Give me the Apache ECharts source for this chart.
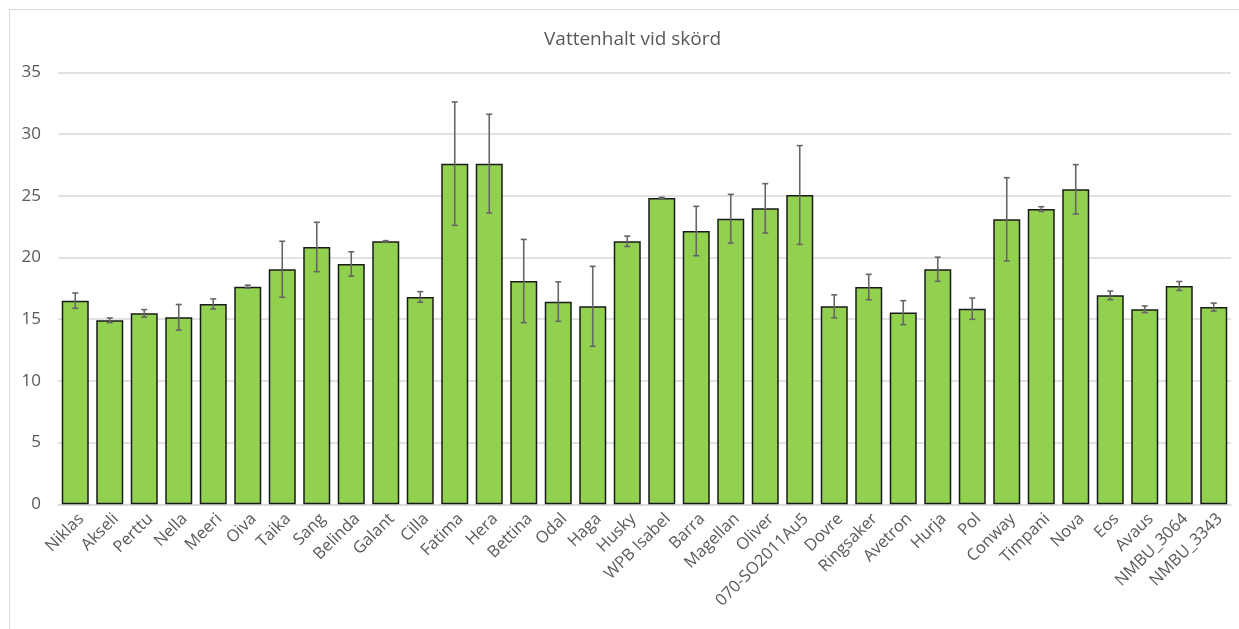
<!DOCTYPE html>
<html>
<head>
<meta charset="utf-8">
<script src="https://cdn.jsdelivr.net/npm/echarts@6/dist/echarts.min.js"></script>
<style>
html,body{margin:0;padding:0;background:#fff;}
#main{width:1239px;height:629px;}
</style>
</head>
<body>
<div id="main"></div>
<script>
const categories = ["Niklas","Akseli","Perttu","Nella","Meeri","Oiva","Taika","Sang","Belinda","Galant","Cilla","Fatima","Hera","Bettina","Odal","Haga","Husky","WPB Isabel","Barra","Magellan","Oliver","070-SO2011Au5","Dovre","Ringsaker","Avetron","Hurja","Pol","Conway","Timpani","Nova","Eos","Avaus","NMBU_3064","NMBU_3343"];
const values = [16.50,14.91,15.47,15.15,16.23,17.63,19.04,20.85,19.47,21.31,16.80,27.60,27.60,18.09,16.42,16.04,21.31,24.82,22.14,23.14,23.98,25.06,16.04,17.60,15.53,19.04,15.85,23.09,23.92,25.52,16.93,15.80,17.69,15.98];
const errors = [0.62,0.19,0.30,1.04,0.41,0.12,2.27,2.00,0.99,0.05,0.43,5.00,4.00,3.37,1.60,3.24,0.42,0.05,2.00,1.97,2.00,4.00,0.93,1.03,0.97,0.98,0.86,3.37,0.19,2.00,0.35,0.27,0.36,0.32];
const yTicks = [0,5,10,15,20,25,30,35];

const chart = echarts.init(document.getElementById('main'));
const errData = values.map((v,i)=>[i, v-errors[i], v+errors[i]]);
chart.setOption({
  animation:false,
  backgroundColor:'#fff',
  graphic:[{type:'rect',shape:{x:9.5,y:9.5,width:1235,height:625},style:{fill:'none',stroke:'#d9d9d9',lineWidth:1},silent:true}],
  title:{text:'Vattenhalt vid skörd',left:539,top:25,textStyle:{color:'#595959',fontSize:19,fontWeight:'normal',fontFamily:'Open Sans, Noto Sans, sans-serif'}},
  grid:{left:58,right:8,top:72.3,bottom:124.7,containLabel:false},
  xAxis:{type:'category',data:categories,
    axisLine:{show:true,lineStyle:{color:'#d9d9d9',width:1.5}},
    axisTick:{show:false},
    axisLabel:{rotate:45,interval:0,color:'#595959',fontSize:16.5,margin:6,verticalAlign:'top',fontFamily:'Open Sans, Noto Sans, sans-serif'}},
  yAxis:{type:'value',min:yTicks[0],max:yTicks[yTicks.length-1],interval:5,
    axisLine:{show:false},axisTick:{show:false},
    splitLine:{lineStyle:{color:'#d9d9d9',width:1.5}},
    axisLabel:{color:'#595959',fontSize:17,margin:17,fontFamily:'Open Sans, Noto Sans, sans-serif'}},
  series:[
    {type:'bar',data:values,barWidth:27,
      itemStyle:{color:'#92D050',borderColor:'#1a1a1a',borderWidth:1.5}},
    {type:'custom',data:errData,z:10,
      renderItem:function(params,api){
        const x=api.value(0);
        const lo=api.coord([x,api.value(1)]);
        const hi=api.coord([x,api.value(2)]);
        const hw=3;
        const st={stroke:'#666666',lineWidth:1.6};
        return {type:'group',children:[
          {type:'line',shape:{x1:lo[0],y1:lo[1],x2:hi[0],y2:hi[1]},style:st},
          {type:'line',shape:{x1:lo[0]-hw,y1:lo[1],x2:lo[0]+hw,y2:lo[1]},style:st},
          {type:'line',shape:{x1:hi[0]-hw,y1:hi[1],x2:hi[0]+hw,y2:hi[1]},style:st}
        ]};
      }}
  ]
});
</script>
</body>
</html>
